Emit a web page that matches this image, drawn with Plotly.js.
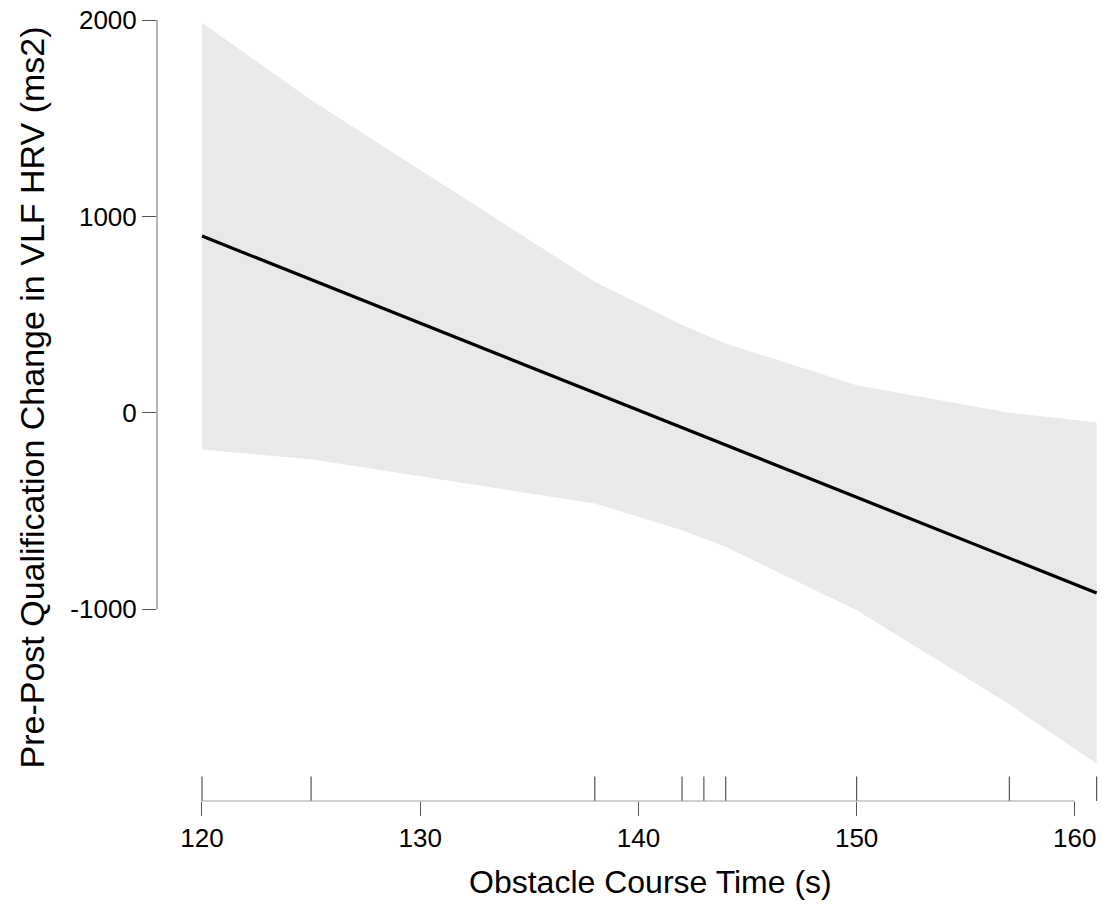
<!DOCTYPE html>
<html>
<head>
<meta charset="utf-8">
<script src="https://cdn.plot.ly/plotly-3.0.1.min.js"></script>
<style>html,body{margin:0;padding:0;background:#fff;}#chart{width:1102px;height:907px;}</style>
</head>
<body>
<div id="chart"></div>
<script>
// Data
var courseTime = [120, 125, 138, 142, 143, 144, 150, 157, 161];
var fitted     = [900, 678, 102, -75, -119, -164, -430, -740, -917];
var upperCI    = [1986, 1593, 667, 447, 400, 353, 141, 0, -49];
var lowerCI    = [-187, -236, -461, -597, -640, -682, -1005, -1484, -1786];
var rugTimes   = [120, 125, 138, 142, 143, 144, 150, 157, 161];

var xTickVals = [120, 130, 140, 150, 160];
var xTickText = ["120", "130", "140", "150", "160"];
var yTickVals = [-1000, 0, 1000, 2000];
var yTickText = ["-1000", "0", "1000", "2000"];

var xTitle = "Obstacle Course Time (s)";
var yTitle = "Pre-Post Qualification Change in VLF HRV (ms2)";

var FONT = "Liberation Sans, Arial, Helvetica, sans-serif";

// rug as line segments on an overlay axis [0,1]
var rugX = [], rugY = [];
rugTimes.forEach(function (t) { rugX.push(t, t, null); rugY.push(0, 0.031, null); });

var traces = [
  {x: courseTime, y: lowerCI, type: "scatter", mode: "lines", line: {width: 0, color: "rgba(0,0,0,0)"}, hoverinfo: "skip", showlegend: false},
  {x: courseTime, y: upperCI, type: "scatter", mode: "lines", fill: "tonexty", fillcolor: "#e9e9e9", line: {width: 0, color: "rgba(0,0,0,0)"}, hoverinfo: "skip", showlegend: false},
  {x: courseTime, y: fitted, type: "scatter", mode: "lines", line: {color: "#000000", width: 3.2}, showlegend: false},
  {x: rugX, y: rugY, yaxis: "y2", type: "scatter", mode: "lines", line: {color: "#555555", width: 1.2}, showlegend: false, hoverinfo: "skip"}
];

var layout = {
  width: 1102, height: 907,
  margin: {l: 157, r: 0, t: 10, b: 106},
  paper_bgcolor: "#ffffff", plot_bgcolor: "#ffffff",
  showlegend: false,
  font: {family: FONT, color: "#000000"},
  xaxis: {
    range: [117.938, 161.246], showgrid: false, zeroline: false, showline: false,
    tickmode: "array", tickvals: xTickVals, ticktext: xTickText,
    ticks: "outside", ticklen: 14, tickwidth: 1, tickcolor: "#555555",
    tickfont: {family: FONT, size: 26, color: "#000000"}
  },
  yaxis: {
    range: [-1976, 2051], showgrid: false, zeroline: false, showline: false,
    tickmode: "array", tickvals: yTickVals, ticktext: yTickText,
    ticks: "outside", ticklen: 14, tickwidth: 1, tickcolor: "#555555",
    tickfont: {family: FONT, size: 26, color: "#000000"}
  },
  yaxis2: {range: [0, 1], overlaying: "y", visible: false, fixedrange: true},
  shapes: [
    {type: "line", xref: "x", yref: "paper", x0: xTickVals[0], x1: xTickVals[xTickVals.length - 1], y0: 0, y1: 0, line: {color: "#a0a0a0", width: 1.2}},
    {type: "line", xref: "paper", yref: "y", x0: 0, x1: 0, y0: yTickVals[0], y1: yTickVals[yTickVals.length - 1], line: {color: "#808080", width: 1.2}}
  ],
  annotations: [
    {text: xTitle, xref: "paper", yref: "paper", x: 0.5217, y: -0.1024, xanchor: "center", yanchor: "middle", showarrow: false, font: {family: FONT, size: 32, color: "#000000"}},
    {text: yTitle, xref: "paper", yref: "paper", x: -0.1328, y: 0.5095, xanchor: "center", yanchor: "middle", textangle: -90, showarrow: false, font: {family: FONT, size: 34, color: "#000000"}}
  ]
};

Plotly.newPlot("chart", traces, layout, {displayModeBar: false, staticPlot: true});
</script>
</body>
</html>
